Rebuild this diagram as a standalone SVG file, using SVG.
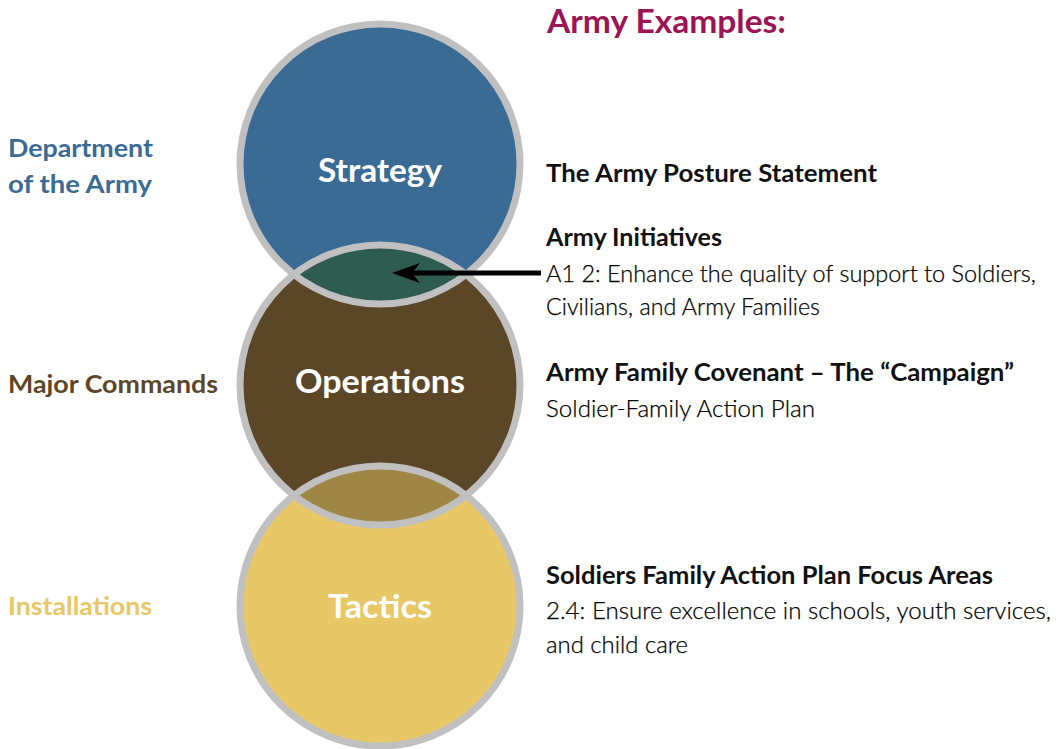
<svg xmlns="http://www.w3.org/2000/svg" width="1060" height="749" viewBox="0 0 1060 749">
  <defs>
    <style>
      .ring { fill: none; stroke: #c0c0c0; stroke-width: 7; }
      .circle-label { font-family: Lato, "Open Sans", sans-serif; font-weight: 700; font-size: 32px; fill: #ffffff; text-anchor: middle; }
      .side { font-family: Lato, "Open Sans", sans-serif; font-weight: 700; font-size: 25px; }
      .head { font-family: Lato, "Open Sans", sans-serif; font-weight: 700; font-size: 24px; fill: #111111; }
      .body { font-family: Lato, "Open Sans", sans-serif; font-weight: 300; font-size: 24px; fill: #000000; stroke: #000000; stroke-width: 0.25; }
      .title { font-family: Lato, "Open Sans", sans-serif; font-weight: 700; font-size: 32px; fill: #9b1456; }
    </style>
    <marker id="arrowhead" viewBox="0 0 28 20" refX="20" refY="10" markerWidth="28" markerHeight="20" markerUnits="userSpaceOnUse" orient="auto">
      <path d="M28,10 L0,0 L8,10 L0,20 Z" fill="#000000"/>
    </marker>
  </defs>

  <rect width="1060" height="749" fill="#ffffff"/>

  <!-- Tiered circles -->
  <g id="strategy">
    <circle cx="380" cy="164" r="140" fill="#3a6b94"/>
  </g>
  <g id="operations">
    <circle cx="380" cy="385" r="140" fill="#5c4628"/>
  </g>
  <g id="tactics">
    <circle cx="380" cy="606" r="140" fill="#e8c766"/>
  </g>
  <!-- Overlap lenses -->
  <g id="overlap-strategy-operations">
    <path d="M294,274.5 A140,140 0 0 1 466,274.5 A140,140 0 0 1 294,274.5 Z" fill="#2e5c50"/>
  </g>
  <g id="overlap-operations-tactics">
    <path d="M294,495.5 A140,140 0 0 1 466,495.5 A140,140 0 0 1 294,495.5 Z" fill="#9e8645"/>
  </g>
  <!-- Outline rings drawn over all fills -->
  <g id="rings">
    <circle class="ring" cx="380" cy="164" r="140"/>
    <circle class="ring" cx="380" cy="385" r="140"/>
    <circle class="ring" cx="380" cy="606" r="140"/>
  </g>

  <text class="circle-label" x="380" y="182" textLength="124" lengthAdjust="spacingAndGlyphs">Strategy</text>
  <text class="circle-label" x="380" y="393" textLength="170" lengthAdjust="spacingAndGlyphs">Operations</text>
  <text class="circle-label" x="380" y="618" textLength="104" lengthAdjust="spacingAndGlyphs">Tactics</text>

  <!-- Level labels -->
  <g id="level-labels">
    <text class="side" x="8" y="157" fill="#3a6b94" textLength="145" lengthAdjust="spacingAndGlyphs">Department</text>
    <text class="side" x="8" y="193" fill="#3a6b94" textLength="144" lengthAdjust="spacingAndGlyphs">of the Army</text>
    <text class="side" x="8" y="393" fill="#5c4628" textLength="210" lengthAdjust="spacingAndGlyphs">Major Commands</text>
    <text class="side" x="8" y="615" fill="#e8c766" textLength="144" lengthAdjust="spacingAndGlyphs">Installations</text>
  </g>

  <!-- Connectors -->
  <g id="connectors">
    <line x1="541" y1="273" x2="400" y2="273" stroke="#000000" stroke-width="5" marker-end="url(#arrowhead)"/>
  </g>

  <!-- Examples -->
  <g id="examples">
    <text class="title" x="547" y="33" textLength="239" lengthAdjust="spacingAndGlyphs">Army Examples:</text>
    <text class="head" x="546" y="182" textLength="331" lengthAdjust="spacingAndGlyphs">The Army Posture Statement</text>
    <text class="head" x="546" y="246" textLength="176" lengthAdjust="spacingAndGlyphs">Army Initiatives</text>
    <text class="body" x="546" y="282" textLength="490" lengthAdjust="spacingAndGlyphs">A1 2: Enhance the quality of support to Soldiers,</text>
    <text class="body" x="546" y="315" textLength="274" lengthAdjust="spacingAndGlyphs">Civilians, and Army Families</text>
    <text class="head" x="546" y="381" textLength="468" lengthAdjust="spacingAndGlyphs">Army Family Covenant – The “Campaign”</text>
    <text class="body" x="546" y="417" textLength="269" lengthAdjust="spacingAndGlyphs">Soldier-Family Action Plan</text>
    <text class="head" x="546" y="584" textLength="447" lengthAdjust="spacingAndGlyphs">Soldiers Family Action Plan Focus Areas</text>
    <text class="body" x="546" y="619" textLength="505" lengthAdjust="spacingAndGlyphs">2.4: Ensure excellence in schools, youth services,</text>
    <text class="body" x="546" y="653" textLength="142" lengthAdjust="spacingAndGlyphs">and child care</text>
  </g>
</svg>
